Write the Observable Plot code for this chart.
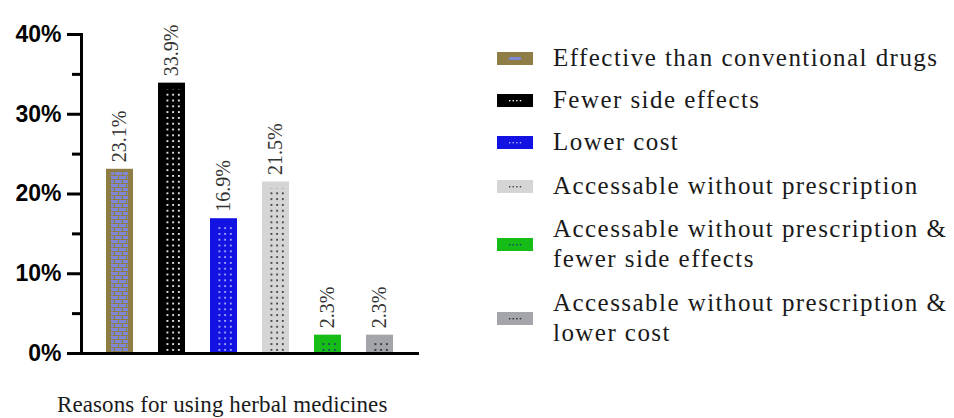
<!DOCTYPE html>
<html>
<head>
<meta charset="utf-8">
<script src="https://cdn.jsdelivr.net/npm/d3@7"></script>
<script src="https://cdn.jsdelivr.net/npm/@observablehq/plot@0.6"></script>
<style>
  html, body { margin: 0; padding: 0; background: #fff; }
  #wrap { position: relative; width: 954px; height: 418px; overflow: hidden; }
  #chart { position: absolute; left: 0; top: 0; }
  #xtitle { position: absolute; left: 57px; top: 391px; font: 23px/27px "Liberation Serif", "Times New Roman", serif; letter-spacing: 0.1px; color: #1a1a1a; white-space: nowrap; }
  .litem { position: absolute; left: 497px; display: flex; align-items: center; }
  .litem svg { display: block; flex: none; }
  .ltext { margin-left: 20px; font: 25px/30px "Liberation Serif", "Times New Roman", serif; letter-spacing: 1.45px; color: #1a1a1a; white-space: nowrap; }
</style>
</head>
<body>
<div id="wrap">
  <div id="chart"></div>
  <div id="xtitle"></div>
  <div id="legend"></div>
</div>
<script>
// ---- data ----
const categories = [
  "Effective than conventional drugs",
  "Fewer side effects",
  "Lower cost",
  "Accessable without prescription",
  "Accessable without prescription & fewer side effects",
  "Accessable without prescription & lower cost"
];
const values = [23.1, 33.9, 16.9, 21.5, 2.3, 2.3];
const legendLines = [
  ["Effective than conventional drugs"],
  ["Fewer side effects"],
  ["Lower cost"],
  ["Accessable without prescription"],
  ["Accessable without prescription &", "fewer side effects"],
  ["Accessable without prescription &", "lower cost"]
];
const barColors = ["#8E7E45", "#000000", "#1212E2", "#D5D5D5", "#17BD17", "#A4A4AB"];
const patternColors = ["#7F88D6", "#FFFFFF", "#A9B0FF", "#3A3A3A", "#1E3C6E", "#2A2A2A"];
const yTicks = [0, 10, 20, 30, 40];
const yMinorTicks = [5, 15, 25, 35];
const xTitle = "Reasons for using herbal medicines";

const data = categories.map((c, i) => ({cat: c, value: values[i], color: barColors[i], pat: `url(#pat${i})`, i}));

// patterns defined relative to the band scale
function defsMark(index, scales) {
  const defs = d3.create("svg:defs");
  data.forEach((d, i) => {
    const x0 = scales.x(d.cat);
    if (i === 0) {
      const p = defs.append("pattern").attr("id", "pat0").attr("patternUnits", "userSpaceOnUse")
        .attr("width", 16).attr("height", 8).attr("x", x0 + 5).attr("y", 0);
      [[0,0],[8,0],[-4,4],[4,4],[12,4]].forEach(([bx, by]) =>
        p.append("rect").attr("x", bx).attr("y", by).attr("width", 7).attr("height", 3).attr("fill", patternColors[0]));
    } else {
      const p = defs.append("pattern").attr("id", "pat" + i).attr("patternUnits", "userSpaceOnUse")
        .attr("width", 5.7).attr("height", 5.8).attr("x", x0 + 8.5).attr("y", 0);
      p.append("rect").attr("x", 0).attr("y", 1).attr("width", 1.8).attr("height", 1.8).attr("fill", patternColors[i]);
    }
  });
  return defs.node();
}

const chart = Plot.plot({
  width: 440,
  height: 370,
  marginLeft: 81,
  marginRight: 21,
  marginTop: 34,
  marginBottom: 17,
  style: {background: "transparent"},
  x: {type: "band", domain: categories, padding: 0.48, axis: null},
  y: {domain: [0, 40], axis: null, label: null},
  color: {type: "identity"},
  marks: [
    defsMark,
    Plot.barY(data, {x: "cat", y: "value", fill: "color"}),
    Plot.barY(data.filter(d => d.i === 0), {x: "cat", y: "value", fill: "pat", insetLeft: 5, insetRight: 5, insetTop: 3}),
    Plot.barY(data.filter(d => d.i > 0), {x: "cat", y: "value", fill: "pat", insetLeft: 8, insetRight: 3, insetTop: 7}),
    Plot.text(data, {
      x: "cat", y: "value", text: d => d.value.toFixed(1) + "%",
      rotate: -90, textAnchor: "start", dy: -7,
      fontSize: 20, fontFamily: "Liberation Serif, Times New Roman, serif", fill: "#333"
    }),
    Plot.axisY(yTicks, {
      tickFormat: d => d + "%", tickSize: 14, tickPadding: 6, strokeWidth: 3,
      fontSize: 23, fontWeight: "bold", fontFamily: "Liberation Sans, Arial, sans-serif",
      color: "#000", label: null
    }),
    Plot.axisY(yMinorTicks, {tickSize: 9, strokeWidth: 3, tickFormat: () => "", color: "#000", label: null}),
    Plot.frame({anchor: "left", strokeWidth: 3, stroke: "#000"}),
    Plot.ruleY([0], {strokeWidth: 3, stroke: "#000", insetLeft: -14})
  ]
});
document.getElementById("chart").appendChild(chart);
document.getElementById("xtitle").textContent = xTitle;

// legend
const legendTops = [43, 85, 127, 171, 214, 288];
const legend = d3.select("#legend");
legendLines.forEach((lines, i) => {
  const item = legend.append("div").attr("class", "litem").style("top", legendTops[i] + "px");
  const sw = item.append("svg").attr("width", 36).attr("height", 13);
  sw.append("rect").attr("width", 36).attr("height", 13).attr("fill", barColors[i]);
  if (i === 0) {
    sw.append("rect").attr("x", 12).attr("y", 5).attr("width", 12).attr("height", 3).attr("fill", patternColors[0]);
  } else {
    d3.range(4).forEach(k => sw.append("rect").attr("x", 12 + k * 3.6).attr("y", 6).attr("width", 1.4).attr("height", 1.4).attr("fill", patternColors[i]));
  }
  const t = item.append("div").attr("class", "ltext");
  lines.forEach((l, j) => { if (j) t.append("br"); t.append("span").text(l); });
});
</script>
</body>
</html>
